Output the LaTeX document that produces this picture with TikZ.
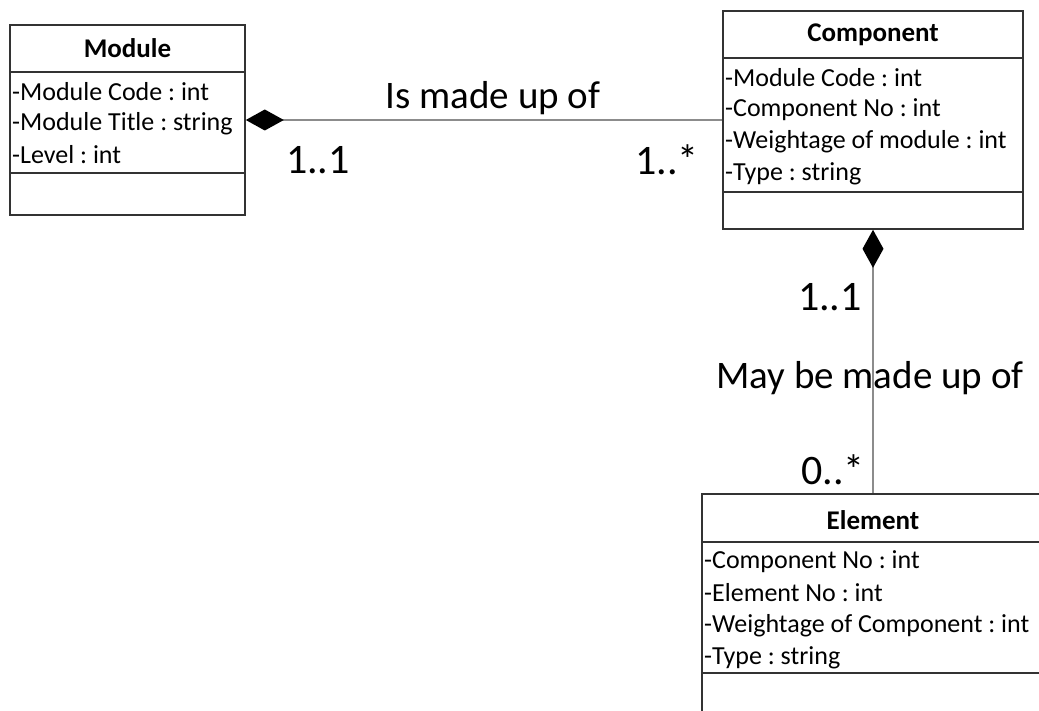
\documentclass[tikz,border=0pt]{standalone}
\usepackage{fontspec}
\setmainfont{Carlito}
\usetikzlibrary{arrows.meta}
\frenchspacing
\tikzset{
  classbox/.style={draw=black!80, line width=1.6pt},
  divider/.style={draw=black!80, line width=1.6pt},
  classname/.style={font=\fontsize{27}{31}\selectfont\bfseries, inner sep=0pt},
  attr/.style={anchor=west, font=\fontsize{26}{30}\selectfont, inner sep=0pt},
  assoc/.style={draw=black!45, line width=2pt},
  mult/.style={font=\fontsize{42}{48}\selectfont, inner sep=0pt},
  rolelabel/.style={font=\fontsize{39}{46}\selectfont, inner sep=0pt},
  composite/.style={{Diamond[length=38pt,width=21pt,color=black,fill=black]}-}
}
\begin{document}
\begin{tikzpicture}[x=1pt,y=-1pt]
    \clip (0,0) rectangle (1039,711);
    \fill[white] (0,0) rectangle (1039,711);
    % class boxes
    \node[classbox, minimum width=235pt, minimum height=190pt] at (127.5,120) (module) {};
    \node[classbox, minimum width=300pt, minimum height=218pt] at (873,120) (component) {};
    \node[classbox, minimum width=342pt, minimum height=236pt] at (873,612) (element) {};
    % compartments
    \draw[divider] (module.west |- 0,72) -- (module.east |- 0,72);
    \draw[divider] (module.west |- 0,173) -- (module.east |- 0,173);
    \draw[divider] (component.west |- 0,58) -- (component.east |- 0,58);
    \draw[divider] (component.west |- 0,192) -- (component.east |- 0,192);
    \draw[divider] (element.west |- 0,542) -- (element.east |- 0,542);
    \draw[divider] (element.west |- 0,673) -- (element.east |- 0,673);
    % Module
    \node[classname] at (127.5,48) (moduleName) {Module};
    \node[attr] at (12,92) (moduleCode) {-Module Code : int};
    \node[attr] at (12,124) (moduleTitle) {-Module Title : string};
    \node[attr] at (12,155) (moduleLevel) {-Level : int};
    % Component
    \node[classname] at (873,35) (componentName) {Component};
    \node[attr] at (725,78) (compModuleCode) {-Module Code : int};
    \node[attr] at (725,110) (compNo) {-Component No : int};
    \node[attr] at (725,142) (compWeight) {-Weightage of module : int};
    \node[attr] at (725,174) (compType) {-Type : string};
    % Element
    \node[classname] at (873,520) (elementName) {Element};
    \node[attr] at (704,562) (elemCompNo) {-Component No : int};
    \node[attr] at (704,593) (elemNo) {-Element No : int};
    \node[attr] at (704,626) (elemWeight) {-Weightage of Component : int};
    \node[attr] at (704,658) (elemType) {-Type : string};
    % associations
    \draw[assoc, composite] (module) -- (component);
    \draw[assoc, composite] (component) -- (element);
    \node[rolelabel] at (493,98) (isMadeUp) {Is made up of};
    \node[mult] at (318,160) (modMult) {1..1};
    \node[mult] at (667,160) (compMult) {1..*};
    \node[mult] at (830,297) (compMult2) {1..1};
    \node[rolelabel] at (870,378) (mayBeMadeUp) {May be made up of};
    \node[mult] at (833,470) (elemMult) {0..*};
\end{tikzpicture}
\end{document}
